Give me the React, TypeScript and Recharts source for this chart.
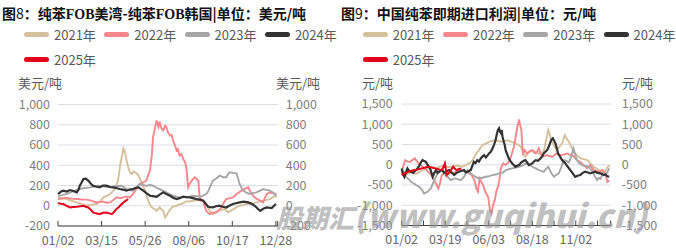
import { CartesianGrid, Line, LineChart, XAxis, YAxis } from "recharts"

type Pt = [number, number]

const FONT = '"Noto Sans CJK SC", "Noto Sans", sans-serif'

const YEARS = ["2021年", "2022年", "2023年", "2024年", "2025年"]
const COLORS = ["#d5c09c", "#f5878c", "#a6a6a6", "#333333", "#e3001b"]
const WIDTHS = [1.9, 1.9, 1.9, 2.2, 2]

// chart 8: FOB US Gulf minus FOB Korea, day of year -> USD/t
const fobTicks = [0, 72, 144, 216, 288, 360, 363]
const fobTickLabels = ["01/02", "03/15", "05/26", "08/06", "10/17", "12/28", ""]
const fobYTicks = [-200, 0, 200, 400, 600, 800, 1000]

const fob2021: Pt[] = [[0,83],[7,75],[14,66],[22,50],[31,33],[38,20],[47,0],[55,10],[64,17],[70,45],[75,83],[80,95],[86,116],[90,140],[94,165],[98,230],[100,281],[103,413],[106,500],[108,565],[110,540],[111,512],[114,430],[116,380],[119,330],[122,314],[125,340],[127,331],[130,320],[133,298],[136,260],[138,231],[141,190],[144,149],[147,90],[149,50],[152,10],[155,-17],[159,-30],[163,-50],[166,-30],[168,-17],[171,-35],[174,-50],[177,-116],[180,-90],[182,-66],[185,-40],[188,-17],[192,-5],[196,0],[200,10],[204,17],[208,30],[212,43],[218,45],[223,50],[229,55],[234,56],[239,45],[243,33],[247,-10],[251,-50],[256,-83],[260,-65],[265,-50],[270,-40],[276,-33],[281,-66],[285,-50],[290,-33],[295,-15],[300,0],[305,8],[311,17],[316,20],[322,23],[330,35],[339,50],[345,58],[350,66],[355,85],[358,99],[361,83]]
const fob2022: Pt[] = [[0,66],[7,72],[14,80],[22,70],[31,66],[39,62],[47,60],[55,50],[64,33],[70,38],[75,40],[80,30],[86,33],[92,60],[97,83],[103,75],[108,83],[113,90],[119,83],[124,116],[130,170],[135,215],[141,230],[146,250],[149,300],[152,347],[154,450],[155,500],[157,678],[160,760],[163,843],[165,800],[166,780],[168,830],[171,760],[174,744],[177,790],[179,777],[182,720],[185,694],[188,700],[190,645],[193,600],[196,546],[198,560],[201,496],[204,510],[207,463],[210,430],[212,380],[214,250],[215,182],[218,220],[221,248],[224,270],[226,281],[229,265],[232,248],[233,150],[234,83],[237,60],[240,50],[242,0],[245,-50],[248,-70],[251,-83],[256,-70],[262,-66],[266,-40],[270,-17],[274,30],[278,66],[284,75],[289,83],[295,116],[299,130],[303,149],[308,165],[314,182],[318,140],[322,99],[328,70],[334,50],[339,33],[342,80],[345,116],[350,130],[356,122],[361,116]]
const fob2023: Pt[] = [[0,99],[7,105],[14,116],[20,130],[25,145],[30,155],[36,165],[44,175],[53,182],[60,190],[69,198],[76,190],[86,182],[92,190],[98,195],[105,198],[110,180],[113,165],[118,155],[124,149],[129,180],[135,215],[140,205],[146,198],[152,205],[157,198],[162,180],[168,165],[173,150],[179,132],[184,115],[190,99],[196,90],[201,83],[207,88],[212,83],[218,90],[223,99],[229,95],[234,89],[240,100],[245,116],[248,140],[251,182],[254,220],[256,248],[260,264],[264,281],[267,298],[270,290],[273,281],[278,281],[281,314],[284,331],[289,325],[295,321],[298,260],[300,215],[303,180],[306,149],[311,130],[317,116],[322,125],[328,132],[334,150],[339,165],[345,155],[350,149],[355,130],[358,116],[361,99]]
const fob2024: Pt[] = [[0,116],[5,140],[9,149],[14,140],[20,155],[25,145],[31,132],[34,160],[36,198],[39,230],[42,264],[46,268],[50,248],[54,220],[58,198],[63,190],[69,182],[74,200],[80,198],[86,185],[91,182],[96,175],[102,165],[107,160],[113,149],[118,160],[124,165],[128,175],[133,182],[137,165],[141,149],[146,125],[152,99],[157,95],[163,89],[168,110],[174,132],[179,115],[185,99],[190,80],[196,66],[201,75],[207,89],[212,85],[218,83],[223,75],[229,66],[234,60],[240,50],[244,20],[248,-10],[252,-15],[256,-17],[261,-5],[267,0],[272,-10],[278,-17],[283,0],[289,17],[294,25],[300,33],[307,40],[314,33],[320,20],[325,0],[328,-17],[331,-35],[334,-50],[339,-30],[345,-17],[349,-20],[353,-23],[357,0],[360,17]]
const fob2025: Pt[] = [[0,26],[5,20],[9,17],[14,0],[20,-17],[25,-12],[31,-10],[37,-5],[42,0],[46,-10],[50,-17],[54,-40],[58,-66],[63,-75],[69,-83],[74,-70],[80,-66],[85,-75],[89,-83],[92,-65],[94,-50],[97,-30],[100,-17],[104,10],[108,33],[112,50],[116,66]]

// chart 9: China spot import margin, day of year -> CNY/t
const impTicks = [0, 38, 76, 114, 152, 190, 228, 266, 304, 342, 365]
const impTickLabels = ["01/02", "", "03/19", "", "06/03", "", "08/18", "", "11/02", "", ""]
const impYTicks = [-1500, -1000, -500, 0, 500, 1000, 1500]

const imp2021: Pt[] = [[0,-200],[7.5,-250],[16,-180],[25,-230],[34,-150],[42,-100],[51,-50],[60,-80],[71,-30],[83,-60],[95,-20],[106,-50],[118,40],[124,115],[129,250],[135,362],[141,486],[147,520],[153,569],[158,590],[164,610],[170,580],[176,569],[182,600],[187,593],[193,560],[199,527],[204,480],[208,445],[212,300],[216,198],[222,300],[228,362],[234,320],[240,280],[244,300],[248,321],[252,600],[256,857],[259,720],[262,569],[267,450],[271,362],[276,450],[280,527],[285,733],[288,650],[292,569],[296,450],[300,321],[306,240],[312,157],[318,140],[324,115],[329,40],[335,-49],[340,-90],[344,-132],[348,-170],[353,-214],[356,-150],[358,-90],[363,-8]]
const imp2022: Pt[] = [[0,-173],[6,115],[10,80],[14.5,70],[19,120],[23,157],[28,60],[32,0],[36.5,-50],[40.6,-90],[46,-170],[52,-255],[55,-330],[58,-420],[61,-500],[64,-585],[67,-450],[70,-255],[75,-214],[81,-230],[86,-200],[90,-214],[94.5,-173],[100,-150],[106,-132],[112,-170],[118,-214],[122,-255],[125,-330],[128,-420],[130.5,-600],[133,-667],[136,-338],[139,-420],[142,-500],[147,-700],[151,-791],[154,-1100],[157,-1200],[159.5,-997],[163,-850],[165,-667],[169,-500],[171,-338],[173,-100],[177,33],[181.5,0],[186,50],[190,157],[193,300],[196,445],[199,692],[202,939],[205,1120],[206.5,1000],[209,857],[210.5,500],[212,280],[214.6,362],[219,280],[223,330],[228,362],[231,300],[234,280],[237,340],[239.6,404],[242,300],[245,198],[250,220],[254,239],[258,210],[263,198],[267,240],[271,280],[275,250],[280,239],[285,260],[289,280],[293,250],[297.6,239],[302,180],[306,115],[310,80],[315,33],[320,-40],[324,-90],[327,-40],[329.5,-8],[332,-60],[335,-132],[340,-150],[344,-173],[348,-140],[351.5,-132],[354,-200],[356.7,-255],[359,-420],[361,-400],[362.5,-379]]
const imp2023: Pt[] = [[0,-132],[4.6,-200],[7.5,-300],[12,-350],[16,-420],[20,-450],[25,-500],[29.6,-540],[33.6,-585],[36.5,-650],[39,-709],[42,-690],[45,-667],[48,-620],[51,-585],[54,-480],[57,-379],[60,-290],[62.6,-214],[67,-170],[71,-132],[75,-220],[80,-297],[83,-340],[86,-379],[90,-350],[94.5,-338],[98.6,-360],[103,-379],[106,-340],[109,-297],[112,-200],[115,-132],[119,-200],[124,-255],[129,-300],[135,-338],[141,-320],[147,-297],[153,-280],[158,-255],[164,-240],[170,-214],[176,-200],[182,-132],[187,-110],[193,-90],[199,-70],[205,-49],[210.5,-20],[216,33],[222,10],[228,-49],[234,-90],[239.6,-132],[244,-150],[248,-173],[252,-100],[256,-49],[261,-200],[266,-297],[270,-250],[274,-220],[279,-50],[283,115],[287,100],[292,60],[296,200],[300,404],[303,250],[306,115],[310,40],[315,-8],[320.6,-30],[327,-49],[331,-130],[335,-214],[338,-300],[341,-379],[344,-320],[347,-350],[350,-255],[354,-230],[358,-214],[362.5,-90]]
const imp2024: Pt[] = [[0,-90],[2,-214],[4.6,-297],[7.5,-180],[10,-90],[13,-150],[16,-173],[20,-200],[25,-132],[28,-80],[31,-20],[33.6,60],[36.5,115],[39,90],[42,74],[45,0],[48,-49],[51,-150],[54,-297],[57,-200],[60,-132],[62.6,-200],[65.5,-173],[68,-132],[71,-132],[74,-200],[77,-173],[80,-150],[83,-132],[87.6,-200],[91.6,-255],[95.7,-200],[100,-173],[105,-150],[109,-132],[112,-190],[115,-173],[118,-150],[120.6,-132],[123.5,-20],[126,74],[129,40],[132,115],[135,80],[138,157],[141,200],[144,239],[147,180],[150,230],[152.5,280],[155.5,321],[158,380],[161,486],[164,610],[166,750],[168,857],[170,900],[171.7,816],[173.4,780],[174.6,857],[176,700],[177.5,610],[180,480],[181.5,362],[184.5,250],[187,157],[190,90],[193,33],[196,-10],[199,-49],[202,-20],[205,-8],[207.7,40],[210.5,74],[213.5,100],[216,115],[219,60],[222,-8],[225,10],[228,33],[231,80],[234,115],[238,100],[242.5,157],[245,200],[248,280],[251,320],[254,362],[257,450],[260,569],[261.7,620],[264,651],[266,600],[268.6,527],[271,400],[273,280],[276.5,200],[280,115],[283,70],[286,33],[290,-50],[294.5,-132],[299,-220],[303,-297],[307,-270],[312,-255],[316,-200],[320.7,-173],[325,-190],[329.5,-214],[333.5,-190],[338,-173],[342,-200],[347,-214],[350,-230],[352.7,-255],[355.6,-240],[358.5,-280],[362.5,-297]]
const imp2025: Pt[] = [[0,-255],[5,-210],[11.6,-173],[17,-150],[23,-132],[29,-110],[35,-90],[41,-70],[46.4,-49],[52,-70],[58,-90],[64,-110],[69.6,-132],[73,-60],[75.4,33],[77,-100],[78.3,-255],[81,-220],[84,-173],[87,-110],[89.9,-49],[93,-100],[95.7,-132],[99,-110],[104,-90]]

const fobSeries = [fob2021, fob2022, fob2023, fob2024, fob2025]
const impSeries = [imp2021, imp2022, imp2023, imp2024, imp2025]

const rows = (pts: Pt[]) => pts.map(([d, v]) => ({ d, v }))
const fmt = (v: number) => v.toLocaleString("en-US")

function DayTick({ x, y, payload, ticks, labels }: any) {
  const label = labels[ticks.indexOf(payload.value)]
  return (
    <g>
      <line x1={x} x2={x} y1={y} y2={y - 5} stroke="#404040" strokeWidth={1} />
      {label ? (
        <text x={x} y={y + 18.5} textAnchor="middle" fill="#666666" fontSize={12.5} fontFamily={FONT}>
          {label}
        </text>
      ) : null}
    </g>
  )
}

function Legend({ left }: { left: number }) {
  return (
    <>
      {YEARS.map((y, i) => {
        const col = i % 4
        const top = i < 4 ? 34.5 : 59.5
        const x = left + col * 80.3
        return (
          <div key={y} style={{ position: "absolute", left: x, top: top - 9, height: 18, display: "flex", alignItems: "center" }}>
            <div style={{ width: 25, height: 4.5, borderRadius: 3, background: COLORS[i] }} />
            <span style={{ marginLeft: 5, fontSize: 13, color: "#595959", lineHeight: "18px" }}>{y}</span>
          </div>
        )
      })}
    </>
  )
}

function Panel({
  series, ticks, labels, domain, yTicks, yDomain, leftW, rightW, marginRight, top, xH, tmL, tmR,
}: any) {
  const yTick = { fill: "#7f7f7f", fontSize: 12.5, fontFamily: FONT }
  return (
    <LineChart width={340} height={250} margin={{ top, right: marginRight, bottom: 0, left: 0 }}>
      <CartesianGrid vertical={false} stroke="#dcdce8" />
      <XAxis
        dataKey="d"
        type="number"
        domain={domain}
        ticks={ticks}
        interval={0}
        height={xH}
        tickLine={false}
        tickSize={0}
        tickMargin={0}
        axisLine={{ stroke: "#404040" }}
        tick={<DayTick ticks={ticks} labels={labels} />}
      />
      <YAxis
        type="number"
        domain={yDomain}
        ticks={yTicks}
        interval={0}
        width={leftW}
        axisLine={false}
        tickLine={false}
        tickSize={0}
        tickMargin={tmL}
        tickFormatter={fmt}
        tick={yTick}
      />
      <YAxis
        yAxisId="r"
        orientation="right"
        type="number"
        domain={yDomain}
        ticks={yTicks}
        interval={0}
        width={rightW}
        axisLine={false}
        tickLine={false}
        tickSize={0}
        tickMargin={tmR}
        tickFormatter={fmt}
        tick={yTick}
      />
      {series.map((s: Pt[], i: number) => (
        <Line
          key={YEARS[i]}
          yAxisId={i === 0 ? "r" : 0}
          data={rows(s)}
          dataKey="v"
          type="linear"
          stroke={COLORS[i]}
          strokeWidth={WIDTHS[i]}
          dot={false}
          isAnimationActive={false}
        />
      ))}
    </LineChart>
  )
}

const serif = { fontFamily: '"Liberation Serif", serif', fontWeight: 700 }
const thin = { fontWeight: 400 }

export default function App() {
  return (
    <div style={{ position: "absolute", left: 0, top: 0, width: 676, height: 250, background: "#fff", fontFamily: FONT, overflow: "hidden" }}>
      <div style={{ position: "absolute", left: 2, top: 3, fontSize: 14, fontWeight: 700, color: "#111", whiteSpace: "nowrap", lineHeight: "20px" }}>
        图<span style={thin}>8</span>：纯苯<span style={serif}>FOB</span>美湾-纯苯<span style={serif}>FOB</span>韩国|单位：美元/吨
      </div>
      <div style={{ position: "absolute", left: 341, top: 3, fontSize: 14, fontWeight: 700, color: "#111", whiteSpace: "nowrap", lineHeight: "20px" }}>
        图<span style={thin}>9</span>：中国纯苯即期进口利润|单位：元/吨
      </div>
      <Legend left={24} />
      <Legend left={362.7} />

      <div style={{ position: "absolute", left: 18, top: 74, fontSize: 13, color: "#595959", lineHeight: "18px" }}>美元/吨</div>
      <div style={{ position: "absolute", left: 276, top: 74, fontSize: 13, color: "#595959", lineHeight: "18px" }}>美元/吨</div>
      <div style={{ position: "absolute", left: 362, top: 74, fontSize: 13, color: "#595959", lineHeight: "18px" }}>元/吨</div>
      <div style={{ position: "absolute", left: 622, top: 74, fontSize: 13, color: "#595959", lineHeight: "18px" }}>元/吨</div>

      <div style={{ position: "absolute", left: 0, top: 0 }}>
        <Panel
          series={fobSeries} ticks={fobTicks} labels={fobTickLabels} domain={[0, 363]}
          yTicks={fobYTicks} yDomain={[-200, 1000]} leftW={58} rightW={54.3} marginRight={8}
          top={104.5} xH={24} tmL={8} tmR={8}
        />
      </div>
      <div style={{ position: "absolute", left: 336, top: 0 }}>
        <Panel
          series={impSeries} ticks={impTicks} labels={impTickLabels} domain={[0, 365]}
          yTicks={impYTicks} yDomain={[-1500, 1500]} leftW={65.7} rightW={55} marginRight={10.3}
          top={104} xH={24.5} tmL={9} tmR={11}
        />
      </div>

      <div
        style={{
          position: "absolute", left: 276, top: 198, whiteSpace: "nowrap", fontWeight: 900, fontStyle: "italic",
          color: "rgba(150,150,150,0.62)", lineHeight: "32px", pointerEvents: "none",
        }}
      >
        <span style={{ fontSize: 26 }}>股期汇</span>
        <span style={{ fontSize: 32 }}>(www.guqihui.cn)</span>
      </div>
    </div>
  )
}
